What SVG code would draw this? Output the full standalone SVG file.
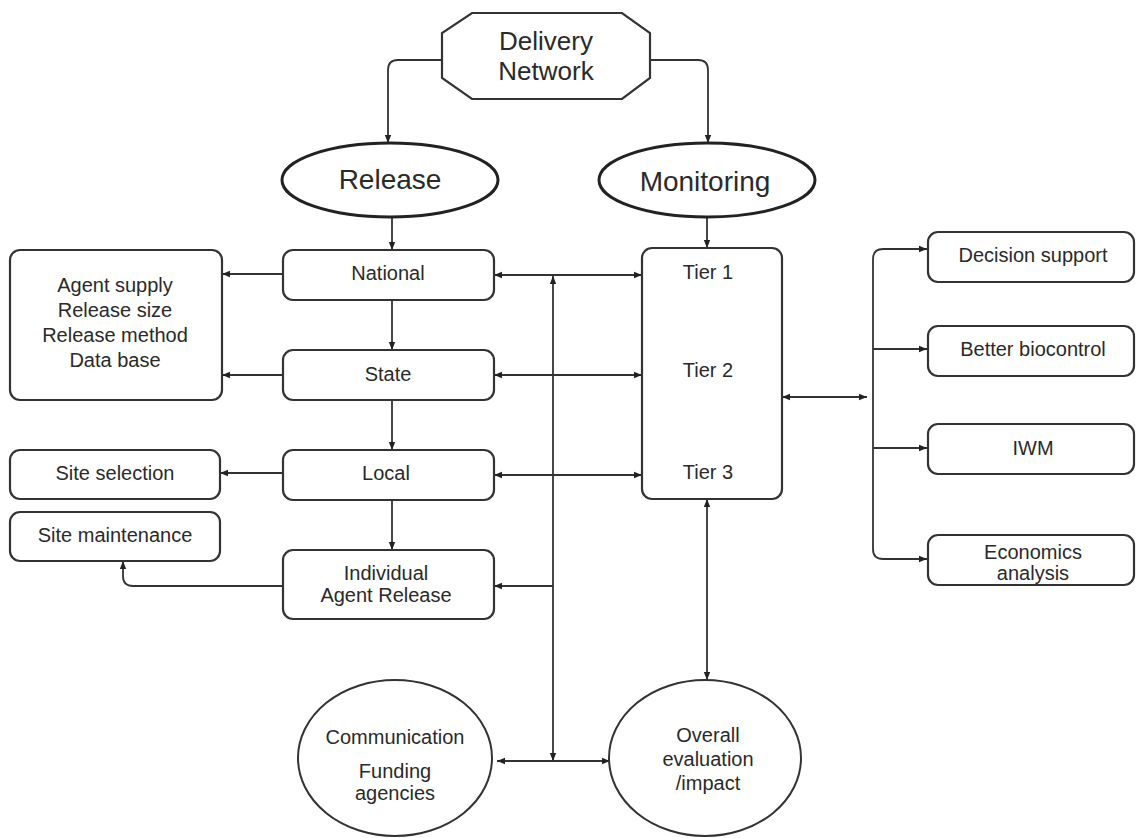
<svg xmlns="http://www.w3.org/2000/svg" width="1136" height="838" viewBox="0 0 1136 838">
  <style>
    .box { fill: #fff; stroke: #333; stroke-width: 2.2; }
    .oval { fill: #fff; stroke: #222; stroke-width: 3; }
    .circ { fill: #fff; stroke: #333; stroke-width: 2; }
    .ln { fill: none; stroke: #333; stroke-width: 1.8; }
    text { font-family: "Liberation Sans", Arial, sans-serif; fill: #2a2a2a; text-anchor: middle; dominant-baseline: central; }
    .big { font-size: 28px; }
    .hd { font-size: 26px; }
    .sm { font-size: 20px; }
  </style>
  <defs>
    <marker id="ah" viewBox="0 0 8 8" refX="8" refY="4" markerWidth="8" markerHeight="8" markerUnits="userSpaceOnUse" orient="auto-start-reverse">
      <path d="M0,0.8 L8,4 L0,7.2 z" fill="#222"/>
    </marker>
  </defs>
  <rect width="1136" height="838" fill="#fff"/>

  <!-- connectors -->
  <g id="connectors">
    <path class="ln" d="M442,60 H398 Q388,60 388,70 V143" marker-end="url(#ah)"/>
    <path class="ln" d="M650,60 H698 Q708,60 708,70 V143" marker-end="url(#ah)"/>
    <path class="ln" d="M392,218 V250" marker-end="url(#ah)"/>
    <path class="ln" d="M392,300 V350" marker-end="url(#ah)"/>
    <path class="ln" d="M392,400 V450" marker-end="url(#ah)"/>
    <path class="ln" d="M392,500 V550" marker-end="url(#ah)"/>
    <path class="ln" d="M707,218 V248" marker-end="url(#ah)"/>
    <path class="ln" d="M283,274 H222" marker-end="url(#ah)"/>
    <path class="ln" d="M283,375 H222" marker-end="url(#ah)"/>
    <path class="ln" d="M283,473 H220" marker-end="url(#ah)"/>
    <path class="ln" d="M283,586 H133 Q123,586 123,576 V561" marker-end="url(#ah)"/>
    <path class="ln" d="M494,275 H642" marker-start="url(#ah)" marker-end="url(#ah)"/>
    <path class="ln" d="M494,375 H642" marker-start="url(#ah)" marker-end="url(#ah)"/>
    <path class="ln" d="M494,475 H642" marker-start="url(#ah)" marker-end="url(#ah)"/>
    <path class="ln" d="M553,586 H494" marker-end="url(#ah)"/>
    <path class="ln" d="M553,761 V276" marker-start="url(#ah)" marker-end="url(#ah)"/>
    <path class="ln" d="M497,761 H610" marker-start="url(#ah)" marker-end="url(#ah)"/>
    <path class="ln" d="M707,286 V348" marker-start="url(#ah)" marker-end="url(#ah)"/>
    <path class="ln" d="M707,389 V450" marker-start="url(#ah)" marker-end="url(#ah)"/>
    <path class="ln" d="M707,499 V680" marker-start="url(#ah)" marker-end="url(#ah)"/>
    <path class="ln" d="M782,397 H867" marker-start="url(#ah)" marker-end="url(#ah)"/>
    <path class="ln" d="M927,249 H883 Q873,249 873,259 V549 Q873,559 883,559 H927" marker-start="url(#ah)" marker-end="url(#ah)"/>
    <path class="ln" d="M873,349 H927" marker-end="url(#ah)"/>
    <path class="ln" d="M873,448 H927" marker-end="url(#ah)"/>
  </g>

  <g id="delivery-network">
    <polygon class="box" points="472,13 622,13 650,33 650,78 622,99 472,99 442,78 442,33"/>
    <text class="hd" x="546" y="41">Delivery</text>
    <text class="hd" x="546" y="71">Network</text>
  </g>

  <g id="release">
    <ellipse class="oval" cx="390" cy="180" rx="108" ry="37"/>
    <text class="big" x="390" y="179">Release</text>
  </g>
  <g id="monitoring">
    <ellipse class="oval" cx="707" cy="180" rx="108" ry="37"/>
    <text class="big" x="705" y="181">Monitoring</text>
  </g>

  <g id="release-details">
    <rect class="box" x="10" y="250" width="212" height="150" rx="10"/>
    <text class="sm" x="115" y="285">Agent supply</text>
    <text class="sm" x="115" y="310">Release size</text>
    <text class="sm" x="115" y="335">Release method</text>
    <text class="sm" x="115" y="360">Data base</text>
  </g>
  <g id="site-selection">
    <rect class="box" x="10" y="450" width="210" height="49" rx="10"/>
    <text class="sm" x="115" y="473">Site selection</text>
  </g>
  <g id="site-maintenance">
    <rect class="box" x="10" y="512" width="210" height="49" rx="10"/>
    <text class="sm" x="115" y="535">Site maintenance</text>
  </g>

  <g id="national">
    <rect class="box" x="283" y="250" width="211" height="50" rx="10"/>
    <text class="sm" x="388" y="273">National</text>
  </g>
  <g id="state">
    <rect class="box" x="283" y="350" width="211" height="50" rx="10"/>
    <text class="sm" x="388" y="374">State</text>
  </g>
  <g id="local">
    <rect class="box" x="283" y="450" width="211" height="50" rx="10"/>
    <text class="sm" x="386" y="473">Local</text>
  </g>
  <g id="individual-release">
    <rect class="box" x="283" y="550" width="211" height="69" rx="10"/>
    <text class="sm" x="386" y="573">Individual</text>
    <text class="sm" x="386" y="595">Agent Release</text>
  </g>

  <g id="tiers">
    <rect class="box" x="642" y="248" width="140" height="251" rx="10"/>
    <text class="sm" x="708" y="272">Tier 1</text>
    <text class="sm" x="708" y="370">Tier 2</text>
    <text class="sm" x="708" y="472">Tier 3</text>
  </g>

  <g id="decision-support">
    <rect class="box" x="928" y="232" width="206" height="50" rx="10"/>
    <text class="sm" x="1033" y="255">Decision support</text>
  </g>
  <g id="better-biocontrol">
    <rect class="box" x="928" y="326" width="206" height="50" rx="10"/>
    <text class="sm" x="1033" y="349">Better biocontrol</text>
  </g>
  <g id="iwm">
    <rect class="box" x="928" y="424" width="206" height="50" rx="10"/>
    <text class="sm" x="1033" y="448">IWM</text>
  </g>
  <g id="economics">
    <rect class="box" x="928" y="535" width="206" height="50" rx="10"/>
    <text class="sm" x="1033" y="552">Economics</text>
    <text class="sm" x="1033" y="573">analysis</text>
  </g>

  <g id="communication">
    <ellipse class="circ" cx="395" cy="758" rx="97" ry="78"/>
    <text class="sm" x="395" y="737">Communication</text>
    <text class="sm" x="395" y="771">Funding</text>
    <text class="sm" x="395" y="793">agencies</text>
  </g>
  <g id="overall-evaluation">
    <ellipse class="circ" cx="705" cy="758" rx="96" ry="78"/>
    <text class="sm" x="708" y="735">Overall</text>
    <text class="sm" x="708" y="759">evaluation</text>
    <text class="sm" x="708" y="783">/impact</text>
  </g>
</svg>
